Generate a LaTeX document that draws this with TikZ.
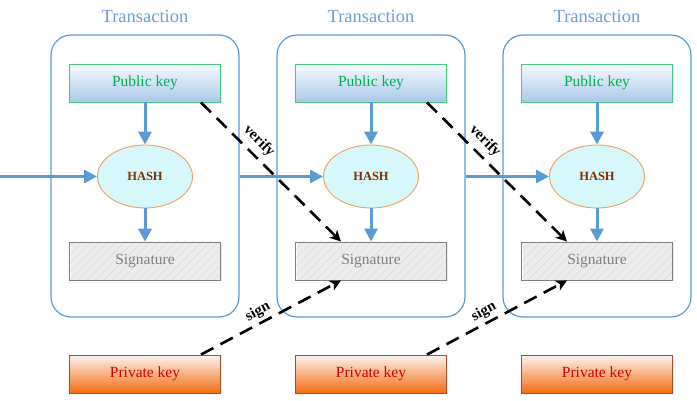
\documentclass[tikz,border=0pt]{standalone}
\usepackage{fontspec}
\setmainfont{Liberation Serif}
\usetikzlibrary{arrows.meta,patterns.meta,shapes.geometric,shadows}
\definecolor{tblue}{HTML}{5B9BD5}
\definecolor{ttext}{HTML}{6A9FDB}
\definecolor{pkgreen}{HTML}{00B050}
\definecolor{pkborder}{HTML}{4CC77F}
\definecolor{pkbottom}{HTML}{A9C9EA}
\definecolor{hashfill}{HTML}{D7F8FB}
\definecolor{hashborder}{HTML}{F0A060}
\definecolor{hashtext}{HTML}{7F3000}
\definecolor{prbottom}{HTML}{F46C12}
\definecolor{prtop}{HTML}{FCF3EE}
\definecolor{prborder}{HTML}{A0522D}
\definecolor{prtext}{HTML}{D00000}
\tikzset{
  txbox/.style={draw=tblue, line width=1.2pt, rounded corners=20pt, minimum width=188pt, minimum height=282pt, inner sep=0pt},
  txlabel/.style={text=ttext, font=\fontsize{18.5}{20}\selectfont},
  pubbox/.style={draw=pkborder, line width=0.9pt, top color=white!90!pkbottom, bottom color=pkbottom, minimum width=151pt, minimum height=38pt, inner sep=0pt, text=pkgreen, font=\fontsize{15.5}{17}\selectfont, drop shadow={shadow xshift=1pt, shadow yshift=-1pt, opacity=0.15}},
  hashnode/.style={ellipse, draw=hashborder, line width=0.9pt, fill=hashfill, minimum width=95pt, minimum height=63pt, inner sep=0pt, text=hashtext, font=\fontsize{12.5}{14}\selectfont\bfseries},
  sigbox/.style={draw=gray, line width=0.9pt, preaction={fill=white}, pattern={Lines[angle=45,distance=6pt,line width=0.5pt]}, pattern color=gray!28, minimum width=151pt, minimum height=38pt, inner sep=0pt, text=gray, font=\fontsize{15.5}{17}\selectfont, drop shadow={shadow xshift=1pt, shadow yshift=-1pt, opacity=0.15}},
  privbox/.style={draw=prborder, line width=0.9pt, top color=prtop, bottom color=prbottom, minimum width=151pt, minimum height=38pt, inner sep=0pt, text=prtext, font=\fontsize{15.5}{17}\selectfont, drop shadow={shadow xshift=1pt, shadow yshift=-1pt, opacity=0.15}},
  barrow/.style={draw=tblue, line width=3pt, -{Triangle[length=13pt,width=13pt]}},
  darrow/.style={draw=black, line width=2.6pt, dash pattern=on 14pt off 8pt, -{Stealth[length=11pt,width=11pt,inset=3pt]}},
  edgelabel/.style={font=\fontsize{15}{16}\selectfont\bfseries, text=black, inner sep=0pt}
}
\begin{document}
\begin{tikzpicture}[x=1pt,y=-1pt]
\useasboundingbox (0,0) rectangle (697,401);
\foreach \i/\cx in {1/145,2/371,3/597}{
  \node[txbox] (tx\i) at (\cx,176) {};
  \node[txlabel] (tl\i) at (\cx,16.5) {Transaction};
  \node[pubbox] (pub\i) at (\cx,83) {Public key};
  \node[hashnode] (hash\i) at (\cx,176.5) {HASH};
  \node[sigbox] (sig\i) at (\cx,261) {Signature};
  \node[privbox] (priv\i) at (\cx,374) {Private key};
  \draw[barrow] (pub\i.south) -- (hash\i.north);
  \draw[barrow] (hash\i.south) -- (sig\i.north);
}
\coordinate (start) at (0,176.5);
\draw[barrow] (start) -- (hash1.west);
\draw[barrow] (tx1.east |- hash1.east) -- (hash2.west);
\draw[barrow] (tx2.east |- hash2.east) -- (hash3.west);
% verify / sign arrows
\draw[darrow] ([xshift=56pt]pub1.south) -- ([xshift=-30pt]sig2.north);
\draw[darrow] ([xshift=56pt]pub2.south) -- ([xshift=-30pt]sig3.north);
\draw[darrow] ([xshift=56pt]priv1.north) -- ([xshift=-30pt]sig2.south);
\draw[darrow] ([xshift=56pt]priv2.north) -- ([xshift=-30pt]sig3.south);
\node[edgelabel, rotate=-45] (v1) at (259,141) {verify};
\node[edgelabel, rotate=-45] (v2) at (485,141) {verify};
\node[edgelabel, rotate=28.5] (s1) at (258,312) {sign};
\node[edgelabel, rotate=28.5] (s2) at (484,312) {sign};
\end{tikzpicture}
\end{document}
